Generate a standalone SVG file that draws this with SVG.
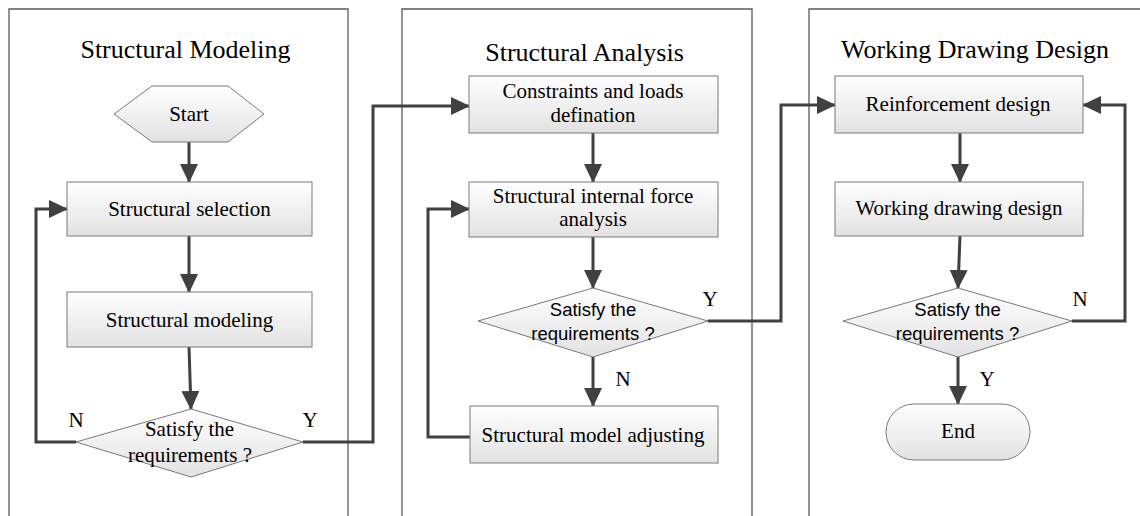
<svg xmlns="http://www.w3.org/2000/svg" width="1140" height="516" viewBox="0 0 1140 516">
<defs>
<linearGradient id="g" x1="0" y1="0" x2="0" y2="1">
<stop offset="0" stop-color="#ffffff"/>
<stop offset="1" stop-color="#e2e2e2"/>
</linearGradient>
<marker id="arr" markerUnits="userSpaceOnUse" markerWidth="19" markerHeight="18" refX="18" refY="9" orient="auto">
<path d="M0,0 L19,9 L0,18 z" fill="#404040"/>
</marker>
<style>
.panel{fill:none;stroke:#5a5a5a;stroke-width:1.3}
.nd{fill:url(#g);stroke:#7a7a7a;stroke-width:1}
.t{font-family:"Liberation Serif","Times New Roman",serif;font-size:21px;fill:#000;text-anchor:middle}
.tt{font-family:"Liberation Serif","Times New Roman",serif;font-size:26px;fill:#000;text-anchor:middle}
.s{font-family:"Liberation Sans",Arial,sans-serif;font-size:18.5px;fill:#000;text-anchor:middle}
.c{fill:none;stroke:#404040;stroke-width:3;marker-end:url(#arr)}
.cn{fill:none;stroke:#404040;stroke-width:3}
</style>
</defs>
<rect width="1140" height="516" fill="#fff"/>
<g id="panels">
<path class="panel" d="M9,516 V9 H348 V516"/>
<path class="panel" d="M402,516 V9 H752 V516"/>
<path class="panel" d="M809,516 V9 H1141"/>
<text class="tt" x="185.5" y="57.5">Structural Modeling</text>
<text class="tt" x="584.5" y="60.5">Structural Analysis</text>
<text class="tt" x="975" y="57.5">Working Drawing Design</text>
</g>
<g id="connectors">
<path class="c" d="M189,142 V182"/>
<path class="c" d="M189,236 V292"/>
<path class="c" d="M189,347 L191,409"/>
<path class="c" d="M76,442 H36 V209 H67"/>
<path class="c" d="M303,442 H373 V106 H469"/>
<path class="c" d="M593,133 V182"/>
<path class="c" d="M593,237 V288"/>
<path class="c" d="M593,357 V406"/>
<path class="c" d="M470,437 H428 V209 H469"/>
<path class="c" d="M708,321 H781 V105 H835"/>
<path class="c" d="M960,133 V182"/>
<path class="c" d="M960,236 L958,288"/>
<path class="c" d="M1072,321 H1125 V105 H1083"/>
<path class="c" d="M958,357 V404"/>
<text class="t" x="76" y="427">N</text>
<text class="t" x="310" y="427">Y</text>
<text class="t" x="710" y="306">Y</text>
<text class="t" x="623" y="386">N</text>
<text class="t" x="1080" y="306">N</text>
<text class="t" x="987" y="386">Y</text>
</g>
<g id="start">
<polygon class="nd" points="114,114 152,86 228,86 264,114 228,142 152,142"/>
<text class="t" x="189" y="121">Start</text>
</g>
<g id="selection">
<rect class="nd" x="67" y="182" width="245" height="54"/>
<text class="t" x="189.5" y="216">Structural selection</text>
</g>
<g id="modeling">
<rect class="nd" x="67" y="292" width="245" height="55"/>
<text class="t" x="189.5" y="327">Structural modeling</text>
</g>
<g id="decision1">
<polygon class="nd" points="76,442 191,409 303,442 191,477"/>
<text class="t" x="189.5" y="436">Satisfy the</text>
<text class="t" x="190" y="462">requirements ?</text>
</g>
<g id="constraints">
<rect class="nd" x="469" y="76" width="249" height="57"/>
<text class="t" x="593" y="98">Constraints and loads</text>
<text class="t" x="593" y="122">defination</text>
</g>
<g id="internal">
<rect class="nd" x="469" y="182" width="249" height="55"/>
<text class="t" x="593" y="203">Structural internal force</text>
<text class="t" x="593" y="226">analysis</text>
</g>
<g id="decision2">
<polygon class="nd" points="478,321 593,288 708,321 593,357"/>
<text class="s" x="593" y="316">Satisfy the</text>
<text class="s" x="593" y="340">requirements ?</text>
</g>
<g id="adjusting">
<rect class="nd" x="470" y="406" width="248" height="57"/>
<text class="t" x="593" y="442">Structural model adjusting</text>
</g>
<g id="reinforcement">
<rect class="nd" x="835" y="76" width="248" height="57"/>
<text class="t" x="958" y="111">Reinforcement design</text>
</g>
<g id="working">
<rect class="nd" x="835" y="182" width="248" height="54"/>
<text class="t" x="959" y="215">Working drawing design</text>
</g>
<g id="decision3">
<polygon class="nd" points="843,321 958,288 1072,321 958,357"/>
<text class="s" x="957.5" y="316">Satisfy the</text>
<text class="s" x="957.5" y="340">requirements ?</text>
</g>
<g id="end">
<rect class="nd" x="886" y="404" width="144" height="56" rx="28" ry="28"/>
<text class="t" x="958" y="438">End</text>
</g>
</svg>
